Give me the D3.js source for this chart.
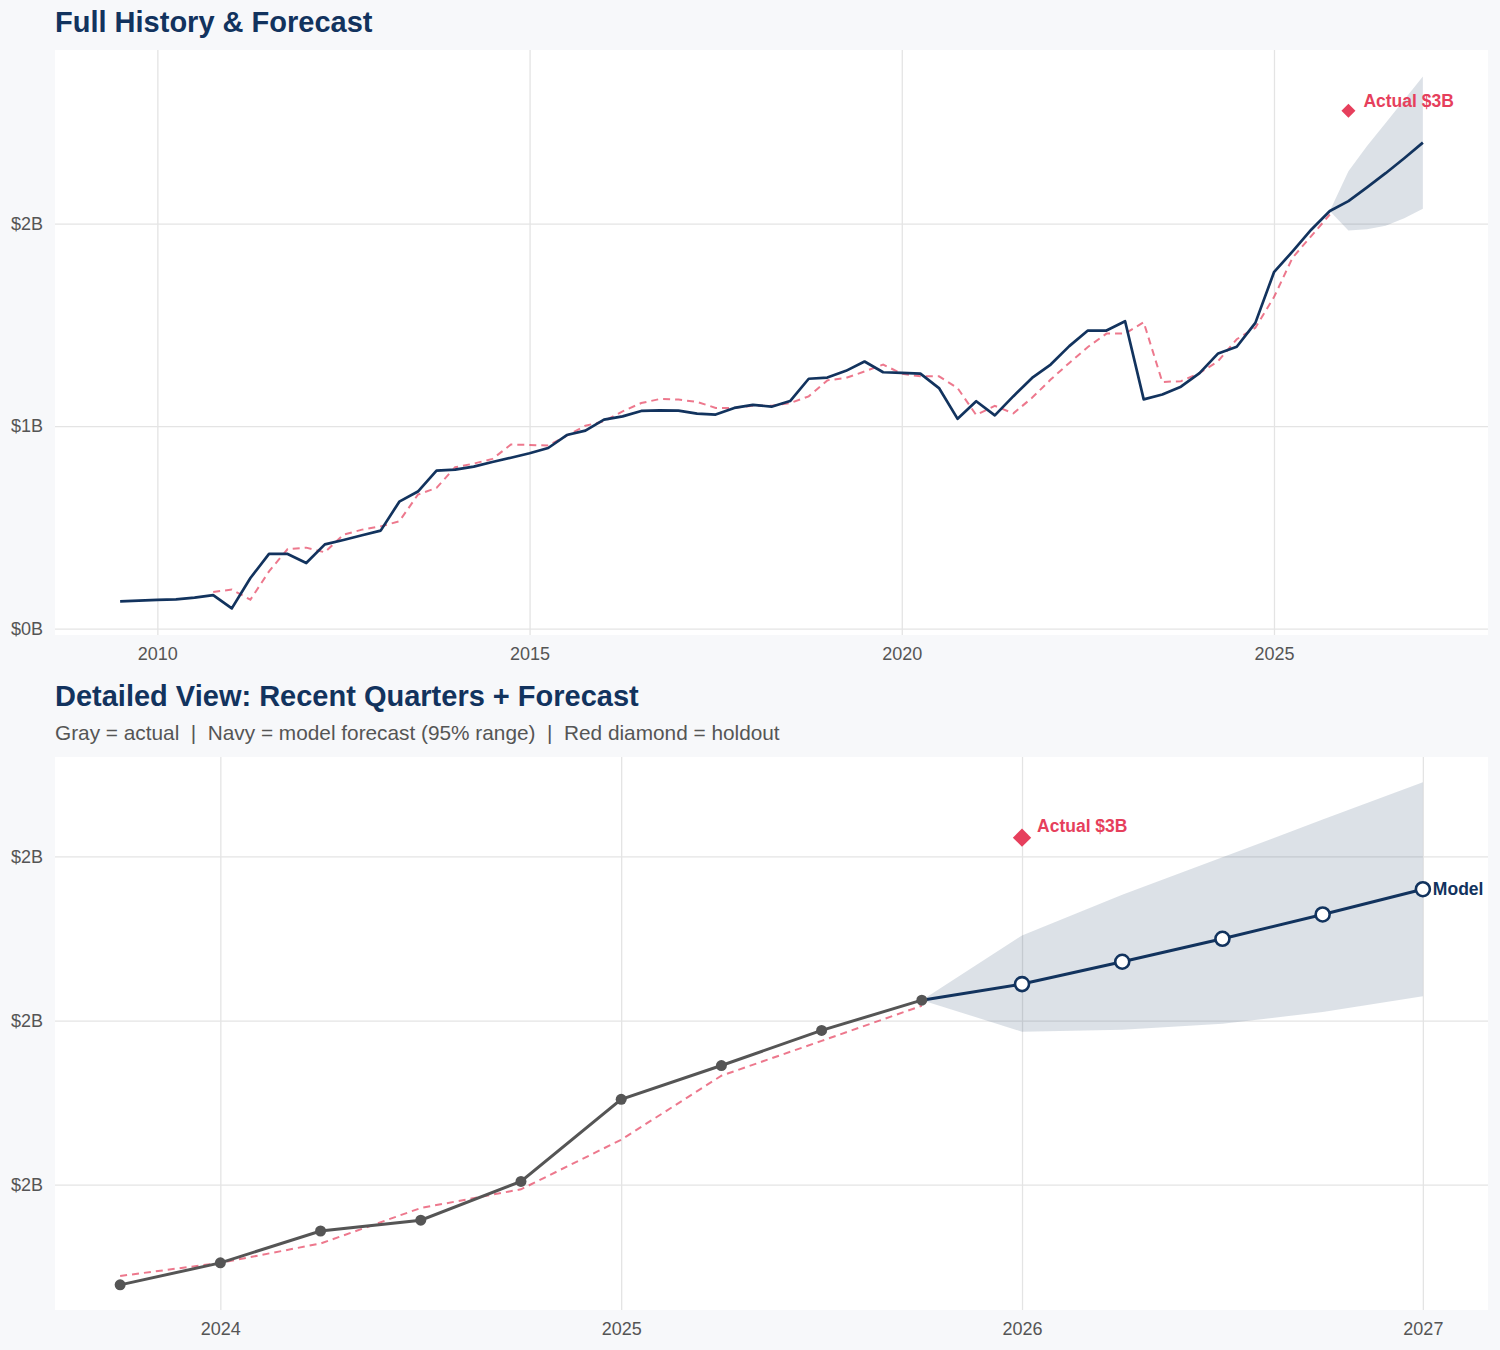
<!DOCTYPE html>
<html>
<head>
<meta charset="utf-8">
<script src="https://cdn.jsdelivr.net/npm/d3@7"></script>
<style>
  body { margin: 0; background: #f7f8fa; }
  text { font-family: "Liberation Sans", Arial, Helvetica, sans-serif; }
</style>
</head>
<body>
<div id="my_dataviz"></div>
<script>

// quarterly revenue in $B, starting 2009 Q3 (2009.5)
var histStart = 2009.5
var actualValues = [
  0.135, 0.138, 0.142, 0.145, 0.153, 0.166, 0.100, 0.250, 0.369, 0.369,
  0.324, 0.416, 0.438, 0.461, 0.484, 0.627, 0.677, 0.780, 0.785, 0.800,
  0.823, 0.844, 0.866, 0.892, 0.956, 0.978, 1.032, 1.048, 1.075, 1.078,
  1.077, 1.062, 1.057, 1.090, 1.105, 1.096, 1.124, 1.234, 1.240, 1.273,
  1.319, 1.266, 1.263, 1.259, 1.188, 1.036, 1.123, 1.053, 1.148, 1.238,
  1.304, 1.395, 1.472, 1.472, 1.518, 1.132, 1.156, 1.195, 1.262, 1.359,
  1.392, 1.510, 1.760, 1.863, 1.970, 2.062
]

// in-sample model fit, starts 2010.75
var fittedStart = 2010.75
var fittedValues = [
  0.181, 0.193, 0.143, 0.283, 0.393, 0.400, 0.377, 0.464, 0.489, 0.505,
  0.530, 0.662, 0.695, 0.797, 0.815, 0.838, 0.909, 0.907, 0.904, 0.953,
  1.002, 1.024, 1.073, 1.114, 1.134, 1.131, 1.120, 1.090, 1.090, 1.101,
  1.101, 1.114, 1.147, 1.226, 1.238, 1.270, 1.304, 1.259, 1.246, 1.246,
  1.188, 1.055, 1.100, 1.063, 1.140, 1.230, 1.312, 1.391, 1.457, 1.457,
  1.513, 1.218, 1.222, 1.262, 1.321, 1.429, 1.486, 1.637, 1.832, 1.938,
  2.045
]

// forecast + 95% range
var forecastQuarters = [2026.0, 2026.25, 2026.5, 2026.75, 2027.0]
var forecastValues = [2.111, 2.179, 2.249, 2.323, 2.400]
var forecastUpper  = [2.259, 2.383, 2.497, 2.612, 2.726]
var forecastLower  = [1.966, 1.972, 1.990, 2.026, 2.074]

// holdout actual
var holdoutQuarter = 2026.0
var holdoutValue = 2.557

// ticks
var topXTicks = [2010, 2015, 2020, 2025]
var topYTicks = [0, 1, 2]
var detailStart = 2023.75
var bottomXTicks = [2024, 2025, 2026, 2027]
var bottomYTicks = [1.5, 2, 2.5]

var navy = "#12335e", red = "#e63f5c", gray = "#555555"

// build point lists
var actual = actualValues.map(function(v, i) { return {t: histStart + i / 4, v: v} })
var fitted = fittedValues.map(function(v, i) { return {t: fittedStart + i / 4, v: v} })
var last = actual[actual.length - 1]
var forecast = forecastQuarters.map(function(t, i) {
  return {t: t, v: forecastValues[i], hi: forecastUpper[i], lo: forecastLower[i]}
})
var band = [{t: last.t, hi: last.v, lo: last.v}].concat(forecast)

// python style "%.0f" (round half to even)
function money(v) {
  var r = Math.round(v)
  if (Math.abs(v % 1) === 0.5) r = 2 * Math.round(v / 2)
  return "$" + r + "B"
}

var svg = d3.select("#my_dataviz")
  .append("svg")
    .attr("width", 1500)
    .attr("height", 1350)

svg.append("rect").attr("width", 1500).attr("height", 1350).attr("fill", "#f7f8fa")

// draws frame, grid, axes; returns the scales
function panel(box, xVals, yVals, xTicks, yTicks) {
  var xExt = d3.extent(xVals), yExt = d3.extent(yVals)
  var xPad = (xExt[1] - xExt[0]) * 0.05, yPad = (yExt[1] - yExt[0]) * 0.05
  var x = d3.scaleLinear().domain([xExt[0] - xPad, xExt[1] + xPad]).range([box.left, box.right])
  var y = d3.scaleLinear().domain([yExt[0] - yPad, yExt[1] + yPad]).range([box.bottom, box.top])

  svg.append("rect")
    .attr("x", box.left).attr("y", box.top)
    .attr("width", box.right - box.left).attr("height", box.bottom - box.top)
    .attr("fill", "white")

  var gx = svg.append("g")
    .attr("transform", "translate(0," + box.bottom + ")")
    .call(d3.axisBottom(x).tickValues(xTicks).tickFormat(d3.format("d"))
      .tickSizeInner(-(box.bottom - box.top)).tickSizeOuter(0).tickPadding(12))
  var gy = svg.append("g")
    .attr("transform", "translate(" + box.left + ",0)")
    .call(d3.axisLeft(y).tickValues(yTicks).tickFormat(money)
      .tickSizeInner(-(box.right - box.left)).tickSizeOuter(0).tickPadding(12))

  ;[gx, gy].forEach(function(g) {
    g.select(".domain").remove()
    g.selectAll("line").attr("stroke", "#e4e4e4").attr("stroke-width", 1.3)
    g.selectAll("text").attr("fill", gray).style("font-size", "18px")
      .style("font-family", "'Liberation Sans', Arial, sans-serif")
  })
  return {x: x, y: y}
}

// ---------- top: full history ----------
svg.append("text").attr("x", 55).attr("y", 32).text("Full History & Forecast")
  .attr("fill", navy).style("font-size", "29px").style("font-weight", "bold")

var allT = actual.map(function(d) { return d.t }).concat(forecastQuarters)
var allV = actualValues.concat(fittedValues, forecastUpper, forecastLower)
var s1 = panel({left: 55, right: 1488, top: 50, bottom: 635}, allT, allV, topXTicks, topYTicks)

svg.append("path").datum(band)
  .attr("d", d3.area().x(function(d) { return s1.x(d.t) })
    .y0(function(d) { return s1.y(d.lo) }).y1(function(d) { return s1.y(d.hi) }))
  .attr("fill", navy).attr("fill-opacity", 0.15)

svg.append("path").datum(fitted)
  .attr("d", d3.line().x(function(d) { return s1.x(d.t) }).y(function(d) { return s1.y(d.v) }))
  .attr("fill", "none").attr("stroke", red).attr("stroke-opacity", 0.7)
  .attr("stroke-width", 2).attr("stroke-dasharray", "7,5")

svg.append("path").datum(actual.concat(forecast))
  .attr("d", d3.line().x(function(d) { return s1.x(d.t) }).y(function(d) { return s1.y(d.v) }))
  .attr("fill", "none").attr("stroke", navy).attr("stroke-width", 2.7)
  .attr("stroke-linejoin", "round")

svg.append("path")
  .attr("d", d3.symbol(d3.symbolDiamond2, 125)())
  .attr("transform", "translate(" + s1.x(holdoutQuarter) + "," + s1.y(holdoutValue) + ")")
  .attr("fill", red)
svg.append("text")
  .attr("x", s1.x(holdoutQuarter) + 15).attr("y", s1.y(holdoutValue) - 10)
  .attr("dy", "0.35em").text("Actual " + money(holdoutValue))
  .attr("fill", red).style("font-size", "17.5px").style("font-weight", "bold")

// ---------- bottom: detail ----------
svg.append("text").attr("x", 55).attr("y", 706).text("Detailed View: Recent Quarters + Forecast")
  .attr("fill", navy).style("font-size", "29px").style("font-weight", "bold")
svg.append("text").attr("x", 55).attr("y", 740)
  .text("Gray = actual  |  Navy = model forecast (95% range)  |  Red diamond = holdout")
  .attr("fill", gray).style("font-size", "20.8px").style("white-space", "pre")

var recent = actual.filter(function(d) { return d.t >= detailStart })
var recentFit = fitted.filter(function(d) { return d.t >= detailStart })
var s2 = panel({left: 55, right: 1488, top: 757, bottom: 1310},
  recent.map(function(d) { return d.t }).concat(forecastQuarters),
  recent.map(function(d) { return d.v }).concat(forecastUpper, forecastLower),
  bottomXTicks, bottomYTicks)

var line2 = d3.line().x(function(d) { return s2.x(d.t) }).y(function(d) { return s2.y(d.v) })

svg.append("path").datum(band)
  .attr("d", d3.area().x(function(d) { return s2.x(d.t) })
    .y0(function(d) { return s2.y(d.lo) }).y1(function(d) { return s2.y(d.hi) }))
  .attr("fill", navy).attr("fill-opacity", 0.15)

svg.append("path").datum(recentFit).attr("d", line2)
  .attr("fill", "none").attr("stroke", red).attr("stroke-opacity", 0.7)
  .attr("stroke-width", 2).attr("stroke-dasharray", "7,5")

svg.append("path").datum(recent).attr("d", line2)
  .attr("fill", "none").attr("stroke", gray).attr("stroke-width", 3)

svg.append("path").datum([last].concat(forecast)).attr("d", line2)
  .attr("fill", "none").attr("stroke", navy).attr("stroke-width", 3)

svg.selectAll("dotActual").data(recent).enter().append("circle")
  .attr("cx", function(d) { return s2.x(d.t) }).attr("cy", function(d) { return s2.y(d.v) })
  .attr("r", 5.5).attr("fill", gray)

svg.selectAll("dotForecast").data(forecast).enter().append("circle")
  .attr("cx", function(d) { return s2.x(d.t) }).attr("cy", function(d) { return s2.y(d.v) })
  .attr("r", 7).attr("fill", "white").attr("stroke", navy).attr("stroke-width", 2.6)

var lastF = forecast[forecast.length - 1]
svg.append("text").attr("x", s2.x(lastF.t) + 10).attr("y", s2.y(lastF.v))
  .attr("dy", "0.35em").text("Model")
  .attr("fill", navy).style("font-size", "17.5px").style("font-weight", "bold")

svg.append("path")
  .attr("d", d3.symbol(d3.symbolDiamond2, 215)())
  .attr("transform", "translate(" + s2.x(holdoutQuarter) + "," + s2.y(holdoutValue) + ")")
  .attr("fill", red)
svg.append("text")
  .attr("x", s2.x(holdoutQuarter) + 15).attr("y", s2.y(holdoutValue) - 12)
  .attr("dy", "0.35em").text("Actual " + money(holdoutValue))
  .attr("fill", red).style("font-size", "17.5px").style("font-weight", "bold")

</script>
</body>
</html>
